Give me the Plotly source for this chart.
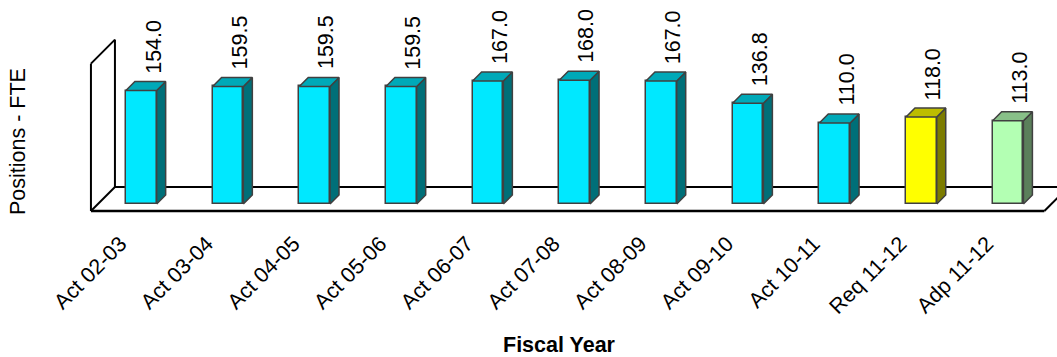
import plotly.graph_objects as go

categories = ["Act 02-03", "Act 03-04", "Act 04-05", "Act 05-06", "Act 06-07",
              "Act 07-08", "Act 08-09", "Act 09-10", "Act 10-11", "Req 11-12", "Adp 11-12"]
values = [154.0, 159.5, 159.5, 159.5, 167.0, 168.0, 167.0, 136.8, 110.0, 118.0, 113.0]
bar_kind = ["act"] * 9 + ["req", "adp"]

palette = {
    "act": {"front": "#00E8FF", "top": "#00A9B8", "side": "#006F78"},
    "req": {"front": "#FFFF00", "top": "#BDBD00", "side": "#7C7C00"},
    "adp": {"front": "#B3FFB3", "top": "#88C088", "side": "#5B7F5B"},
}
edge = "#404040"
FONT = "Arial, Liberation Sans, sans-serif"
FS = 21.5

W, H = 1057, 357
ML, MR, MT, MB = 0, 0, 30, 131
XR = [-1.630, 10.565]
YR = [-29.85, 236.1]
pw, ph = W - ML - MR, H - MT - MB
pxx = pw / (XR[1] - XR[0])   # pixels per category unit
pxy = ph / (YR[1] - YR[0])   # pixels per value unit

bar_w = 0.355
depth = 9.0                  # bar depth in pixels (45 degree)
dx, dy = depth / pxx, depth / pxy

fig = go.Figure()

# 3-D faces (side and top) computed from the data
for i, (v, k) in enumerate(zip(values, bar_kind)):
    x0, x1 = i - bar_w / 2, i + bar_w / 2
    fig.add_trace(go.Scatter(
        x=[x1, x1, x1 + dx, x1 + dx, x1], y=[0, v, v + dy, dy, 0],
        mode="lines", fill="toself", fillcolor=palette[k]["side"],
        line=dict(color=edge, width=1.5), hoverinfo="skip", showlegend=False))
    fig.add_trace(go.Scatter(
        x=[x0, x1, x1 + dx, x0 + dx, x0], y=[v, v, v + dy, v + dy, v],
        mode="lines", fill="toself", fillcolor=palette[k]["top"],
        line=dict(color=edge, width=1.5), hoverinfo="skip", showlegend=False))

fig.add_trace(go.Bar(
    x=list(range(len(categories))), y=values, width=bar_w,
    marker=dict(color=[palette[k]["front"] for k in bar_kind],
                line=dict(color=edge, width=1.5)),
    hoverinfo="skip", showlegend=False))

# floor and left wall frame
def pt(X, V, d):
    return X + d / pxx, V + d / pxy

wall_h = 200
fl, bk = -7, 17
xl, xr = -0.5, 10.5
segs = [
    (pt(xl, 0, fl), pt(xr, 0, fl), 2.5),
    (pt(xl, 0, bk), pt(xr, 0, bk), 2),
    (pt(xl, 0, fl), pt(xl, 0, bk), 2),
    (pt(xr, 0, fl), pt(xr, 0, bk), 2),
    (pt(xl, 0, fl), pt(xl, wall_h, fl), 2),
    (pt(xl, 0, bk), pt(xl, wall_h, bk), 2),
    (pt(xl, wall_h, fl), pt(xl, wall_h, bk), 2),
]
shapes = []
for (a, b, lw) in segs:
    shapes.append(dict(type="line", xref="x", yref="y", x0=a[0], y0=a[1], x1=b[0], y1=b[1],
                       line=dict(color="black", width=lw), layer="below"))

annotations = []
for i, v in enumerate(values):
    annotations.append(dict(x=i, y=v, xref="x", yref="y", text=f"{v:.1f}", showarrow=False,
                            textangle=-90, xanchor="center", yanchor="bottom",
                            xshift=12, yshift=15, font=dict(family=FONT, size=FS, color="black")))

annotations.append(dict(x=18 / pw, y=(ph - (142 - MT)) / ph, xref="paper", yref="paper",
                        text="Positions - FTE", textangle=-90, showarrow=False,
                        xanchor="center", yanchor="middle",
                        font=dict(family=FONT, size=FS, color="black")))
annotations.append(dict(x=559 / pw, y=(ph - (345 - MT)) / ph, xref="paper", yref="paper",
                        text="<b>Fiscal Year</b>", showarrow=False,
                        xanchor="center", yanchor="middle",
                        font=dict(family=FONT, size=FS, color="black")))

fig.update_layout(
    width=W, height=H, margin=dict(l=ML, r=MR, t=MT, b=MB),
    paper_bgcolor="white", plot_bgcolor="white",
    shapes=shapes, annotations=annotations, bargap=0,
    xaxis=dict(range=XR, tickmode="array", tickvals=list(range(len(categories))),
               ticktext=categories, tickangle=-45, showgrid=False, zeroline=False,
               showline=False, ticks="", ticklabelshift=-21,
               tickfont=dict(family=FONT, size=FS, color="black"),
               fixedrange=True),
    yaxis=dict(range=YR, visible=False, fixedrange=True),
)

fig.write_html("out.html")
